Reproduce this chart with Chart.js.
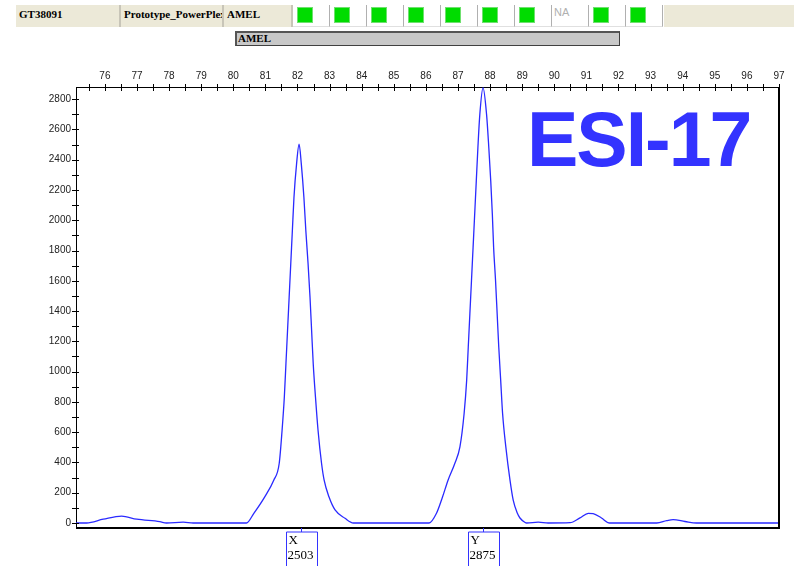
<!DOCTYPE html>
<html>
<head>
<meta charset="utf-8">
<script src="https://cdn.jsdelivr.net/npm/chart.js@4"></script>
<style>
  body { margin: 0; background: #fff; }
  #wrap { position: relative; width: 800px; height: 566px; }
  #grafik { position: absolute; left: 0; top: 0; }
  .sel { position: absolute; top: 5px; height: 22px; box-sizing: border-box;
         font: bold 11px "Liberation Serif", serif; line-height: 18px; white-space: nowrap; overflow: hidden; }
  .beige { background: #ece9d8; border-right: 2px solid #c8c5b8; padding-left: 3px; }
  .kotak { background: #fff; border-right: 1px solid #b0b0b0; border-bottom: 1px solid #e0e0e0; width: 37px; }
  .hijau { position: absolute; left: 4px; top: 2px; width: 16px; height: 16px; background: #00dc00; box-sizing: border-box; border: 1px solid #6fe06f; }
  .na { position: absolute; left: 2px; top: 1px; font: 11px "Liberation Sans", sans-serif; color: #b0b0b0; font-weight: normal; }
  #amel { position: absolute; left: 235px; top: 31px; width: 385px; height: 15px; box-sizing: border-box;
          background: #c8c8c8; border: 1px solid #404040; border-top: 2px solid #555; border-left: 2px solid #555;
          font: bold 11px "Liberation Serif", serif; line-height: 11px; padding-left: 1px; }
</style>
</head>
<body>
<div id="wrap">
  <canvas id="grafik" width="800" height="566"></canvas>
  <div id="header"></div>
  <div id="amel">AMEL</div>
</div>
<script>
// =====================
// DATA
// =====================
const ukuran = [
  75.10, 75.43, 75.95, 76.52, 76.99, 77.71, 77.92, 78.44, 78.75, 80.36,
  80.41, 80.64, 80.98, 81.26, 81.43, 81.52, 81.59, 81.64, 81.69, 81.74,
  81.79, 81.84, 81.89, 81.97, 82.05, 82.12, 82.20, 82.26, 82.33, 82.39,
  82.44, 82.49, 82.56, 82.64, 82.75, 82.83, 82.98, 83.17, 83.48, 83.74,
  86.10, 86.33, 86.52, 86.69, 86.90, 87.06, 87.19, 87.27, 87.32, 87.37,
  87.42, 87.47, 87.51, 87.57, 87.62, 87.68, 87.78, 87.89, 87.96, 88.02,
  88.07, 88.11, 88.17, 88.22, 88.27, 88.33, 88.39, 88.49, 88.62, 88.72,
  88.85, 88.93, 89.08, 89.14, 89.50, 89.81, 90.49, 90.80, 91.06, 91.21,
  91.47, 91.72, 93.19, 93.50, 93.70, 94.07, 94.43, 96.98, 97.00
];
const rfu = [
  0, 0, 25, 46, 25, 9, 0, 6, 0, 0,
  0, 64, 173, 283, 393, 613, 832, 1052, 1271, 1491,
  1711, 1930, 2150, 2369, 2503, 2369, 2150, 1930, 1711, 1491,
  1271, 1052, 832, 613, 393, 283, 173, 86, 31, 0,
  0, 64, 173, 283, 393, 503, 722, 942, 1162, 1382,
  1600, 1820, 1996, 2260, 2479, 2699, 2875, 2699, 2479, 2260,
  2040, 1820, 1600, 1382, 1162, 942, 722, 503, 283, 151,
  64, 33, 5, 0, 6, 0, 2, 34, 64, 62,
  33, 0, 0, 15, 22, 10, 0, 0, 5
];
const labelX = [76, 77, 78, 79, 80, 81, 82, 83, 84, 85, 86, 87, 88, 89, 90, 91, 92, 93, 94, 95, 96, 97];
const labelY = [0, 200, 400, 600, 800, 1000, 1200, 1400, 1600, 1800, 2000, 2200, 2400, 2600, 2800];
const alelNama = ["X", "Y"];
const alelUkuran = [82.10, 87.78];
const alelTinggi = [2503, 2875];

// header marker cells (true = hijau, false = NA)
const statusMarker = [true, true, true, true, true, true, true, false, true, true];

// =====================
// HEADER
// =====================
const header = document.getElementById("header");
let html = `
  <div class="sel beige" style="left:16px;width:105px">GT38091</div>
  <div class="sel beige" style="left:121px;width:103px">Prototype_PowerPlex</div>
  <div class="sel beige" style="left:224px;width:69px">AMEL</div>
`;
statusMarker.forEach((ok, i) => {
  const left = 293 + i * 37;
  html += `<div class="sel kotak" style="left:${left}px">` +
    (ok ? `<div class="hijau"></div>` : `<span class="na">NA</span>`) + `</div>`;
});
html += `<div class="sel" style="left:664px;width:130px;background:#ece9d8"></div>`;
header.innerHTML = html;

// =====================
// PLUGIN: tick silang, bingkai, judul, label alel
// =====================
const hiasan = {
  id: "hiasan",
  afterDraw(chart) {
    const { ctx, chartArea: a, scales } = chart;
    const sx = scales.x, sy = scales.y;
    ctx.save();
    ctx.strokeStyle = "#000";
    ctx.lineWidth = 1;
    ctx.beginPath();
    for (let v = 75.5; v <= 97.001; v += 0.5) {
      const px = Math.round(sx.getPixelForValue(v)) + 0.5;
      ctx.moveTo(px, a.top - 3);
      ctx.lineTo(px, a.top + 4);
    }
    for (let v = 0; v <= 2800; v += 100) {
      const py = Math.round(sy.getPixelForValue(v)) + 0.5;
      ctx.moveTo(a.left - 4, py);
      ctx.lineTo(a.left + 3, py);
    }
    ctx.stroke();

    // bingkai kanan & bawah
    ctx.lineWidth = 2;
    ctx.beginPath();
    ctx.moveTo(a.right, a.top);
    ctx.lineTo(a.right, a.bottom);
    ctx.lineTo(a.left, a.bottom);
    ctx.stroke();

    // judul ESI-17
    ctx.fillStyle = "#3333ff";
    ctx.font = "bold 77px 'Liberation Sans', Arial, sans-serif";
    ctx.letterSpacing = "-2px";
    ctx.textBaseline = "alphabetic";
    ctx.fillText("ESI-17", 527, 166);
    ctx.letterSpacing = "0px";

    // label alel di bawah sumbu
    alelNama.forEach((nama, i) => {
      const px = Math.round(sx.getPixelForValue(alelUkuran[i])) + 0.5;
      ctx.strokeStyle = "#3333ff";
      ctx.lineWidth = 1;
      ctx.beginPath();
      ctx.moveTo(px, a.bottom);
      ctx.lineTo(px, a.bottom + 4);
      ctx.rect(px - 15, a.bottom + 4, 31, 40);
      ctx.stroke();
      ctx.fillStyle = "#000";
      ctx.font = "13px 'Liberation Serif', serif";
      ctx.textBaseline = "middle";
      ctx.textAlign = "left";
      ctx.fillText(nama, px - 13, a.bottom + 13);
      ctx.fillText(String(alelTinggi[i]), px - 14, a.bottom + 28);
    });
    ctx.restore();
  }
};

// =====================
// GRAFIK
// =====================
const ctx = document.getElementById("grafik");
new Chart(ctx, {
  type: "line",
  data: {
    datasets: [{
      data: ukuran.map((x, i) => ({ x: x, y: rfu[i] })),
      borderColor: "#2a2aff",
      borderWidth: 1.3,
      pointRadius: 0,
      fill: false,
      cubicInterpolationMode: "monotone"
    }]
  },
  options: {
    responsive: false,
    animation: false,
    layout: { padding: { left: 0, right: 21, top: 0, bottom: 38 } },
    plugins: {
      legend: { display: false },
      tooltip: { enabled: false }
    },
    scales: {
      x: {
        type: "linear",
        position: "top",
        min: 75.1,
        max: 97,
        afterBuildTicks: (s) => { s.ticks = labelX.map(v => ({ value: v })); },
        afterFit: (s) => { s.height = 87; },
        ticks: {
          color: "#222",
          font: { family: "'Liberation Sans', Arial, sans-serif", size: 10 },
          padding: 5,
          maxRotation: 0,
          autoSkip: false,
          callback: (v) => String(v)
        },
        grid: { display: false, drawTicks: false },
        border: { display: true, color: "#000", width: 1 }
      },
      y: {
        type: "linear",
        min: -33,
        max: 2880,
        afterBuildTicks: (s) => { s.ticks = labelY.map(v => ({ value: v })); },
        afterFit: (s) => { s.width = 76; },
        ticks: {
          color: "#222",
          font: { family: "'Liberation Sans', Arial, sans-serif", size: 10 },
          padding: 5,
          autoSkip: false,
          callback: (v) => String(v)
        },
        grid: { display: false, drawTicks: false },
        border: { display: true, color: "#000", width: 1 }
      }
    }
  },
  plugins: [hiasan]
});
</script>
</body>
</html>
